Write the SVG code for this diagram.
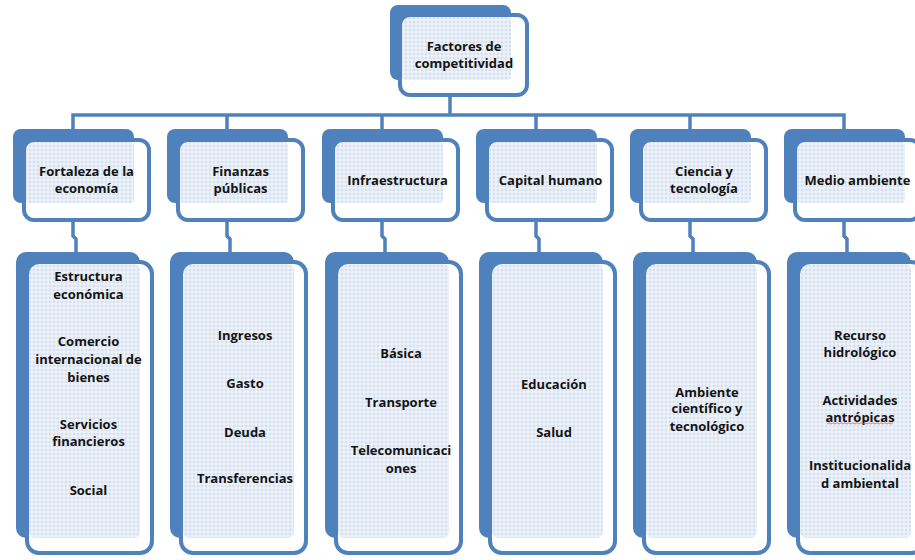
<svg xmlns="http://www.w3.org/2000/svg" width="915" height="560" viewBox="0 0 915 560">
<defs>
<pattern id="dots" width="4" height="4" patternUnits="userSpaceOnUse">
<rect width="4" height="4" fill="#e6edf6"/>
<circle cx="2" cy="2" r="0.9" fill="#cfdbec"/>
<circle cx="0" cy="0" r="0.7" fill="#ffffff"/>
<circle cx="4" cy="4" r="0.7" fill="#ffffff"/>
<circle cx="4" cy="0" r="0.7" fill="#ffffff"/>
<circle cx="0" cy="4" r="0.7" fill="#ffffff"/>
</pattern>
<style>
.back{fill:#4f81bd;}
.face{fill:#ffffff;}
.pat{fill:url(#dots);}
.edge{fill:none;stroke:#4f81bd;stroke-width:4;}
.conn{fill:none;stroke:#4f81bd;stroke-width:3.5;stroke-linejoin:miter;}
text{font-family:"Open Sans",Lato,"Liberation Sans",sans-serif;font-weight:700;font-size:13px;text-anchor:middle;fill:#141414;}
.squig{fill:none;stroke:#e06060;stroke-width:0.8;}
</style>
</defs>
<rect width="915" height="560" fill="#ffffff"/>

<g id="connectors">
<path class="conn" d="M450 95 V115"/>
<path class="conn" d="M73 130 V115 H844 V130"/>
<path class="conn" d="M227 115 V130"/>
<path class="conn" d="M382 115 V130"/>
<path class="conn" d="M536 115 V130"/>
<path class="conn" d="M690 115 V130"/>
<path class="conn" d="M73 220 V236 L76 239 V252"/>
<path class="conn" d="M227 220 V236 L230 239 V252"/>
<path class="conn" d="M382 220 V236 L385 239 V252"/>
<path class="conn" d="M536 220 V236 L539 239 V252"/>
<path class="conn" d="M690 220 V236 L693 239 V252"/>
<path class="conn" d="M844 220 V236 L847 239 V252"/>
</g>

<g id="root">
<rect class="back" x="390" y="5" width="121" height="75" rx="8"/>
<rect class="face" x="400" y="15" width="127" height="80" rx="10"/>
<rect class="pat" x="402" y="17" width="109" height="63" rx="4"/>
<rect class="edge" x="400" y="15" width="127" height="80" rx="10"/>
<text x="464" y="51">Factores de</text>
<text x="464" y="68">competitividad</text>
</g>

<g id="n-fortaleza">
<rect class="back" x="13" y="129" width="121" height="74" rx="8"/>
<rect class="face" x="24" y="140" width="125" height="80" rx="10"/>
<rect class="pat" x="26" y="142" width="108" height="61" rx="4"/>
<rect class="edge" x="24" y="140" width="125" height="80" rx="10"/>
<text x="86.5" y="176">Fortaleza de la</text>
<text x="86.5" y="193">economía</text>
</g>
<g id="n-finanzas">
<rect class="back" x="167" y="129" width="121" height="74" rx="8"/>
<rect class="face" x="178" y="140" width="125" height="80" rx="10"/>
<rect class="pat" x="180" y="142" width="108" height="61" rx="4"/>
<rect class="edge" x="178" y="140" width="125" height="80" rx="10"/>
<text x="240.5" y="176">Finanzas</text>
<text x="240.5" y="193">públicas</text>
</g>
<g id="n-infra">
<rect class="back" x="322" y="129" width="121" height="74" rx="8"/>
<rect class="face" x="333" y="140" width="125" height="80" rx="10"/>
<rect class="pat" x="335" y="142" width="108" height="61" rx="4"/>
<rect class="edge" x="333" y="140" width="125" height="80" rx="10"/>
<text x="397.5" y="184.5">Infraestructura</text>
</g>
<g id="n-capital">
<rect class="back" x="476" y="129" width="121" height="74" rx="8"/>
<rect class="face" x="487" y="140" width="125" height="80" rx="10"/>
<rect class="pat" x="489" y="142" width="108" height="61" rx="4"/>
<rect class="edge" x="487" y="140" width="125" height="80" rx="10"/>
<text x="550.5" y="184.5">Capital humano</text>
</g>
<g id="n-ciencia">
<rect class="back" x="630" y="129" width="121" height="74" rx="8"/>
<rect class="face" x="641" y="140" width="125" height="80" rx="10"/>
<rect class="pat" x="643" y="142" width="108" height="61" rx="4"/>
<rect class="edge" x="641" y="140" width="125" height="80" rx="10"/>
<text x="704" y="176">Ciencia y</text>
<text x="704" y="193">tecnología</text>
</g>
<g id="n-medio">
<rect class="back" x="784" y="129" width="121" height="74" rx="8"/>
<rect class="face" x="795" y="140" width="125" height="80" rx="10"/>
<rect class="pat" x="797" y="142" width="108" height="61" rx="4"/>
<rect class="edge" x="795" y="140" width="125" height="80" rx="10"/>
<text x="857.5" y="184.5">Medio ambiente</text>
</g>

<g id="l-fortaleza">
<rect class="back" x="16" y="252" width="124" height="286" rx="10"/>
<rect class="face" x="27" y="262" width="125" height="291" rx="12"/>
<rect class="pat" x="29" y="264" width="111" height="274" rx="6"/>
<rect class="edge" x="27" y="262" width="125" height="291" rx="12"/>
<text x="88.5" y="281">Estructura</text>
<text x="88.5" y="298.5">económica</text>
<text x="88.5" y="346">Comercio</text>
<text x="88.5" y="364">internacional de</text>
<text x="88.5" y="381.5">bienes</text>
<text x="88.5" y="429">Servicios</text>
<text x="88.5" y="446">financieros</text>
<text x="88.5" y="494.5">Social</text>
</g>
<g id="l-finanzas">
<rect class="back" x="170" y="252" width="124" height="286" rx="10"/>
<rect class="face" x="181" y="262" width="125" height="291" rx="12"/>
<rect class="pat" x="183" y="264" width="111" height="274" rx="6"/>
<rect class="edge" x="181" y="262" width="125" height="291" rx="12"/>
<text x="245" y="339.5">Ingresos</text>
<text x="245" y="387.5">Gasto</text>
<text x="245" y="436.5">Deuda</text>
<text x="245" y="482.5">Transferencias</text>
</g>
<g id="l-infra">
<rect class="back" x="325" y="252" width="124" height="286" rx="10"/>
<rect class="face" x="336" y="262" width="125" height="291" rx="12"/>
<rect class="pat" x="338" y="264" width="111" height="274" rx="6"/>
<rect class="edge" x="336" y="262" width="125" height="291" rx="12"/>
<text x="401" y="357.5">Básica</text>
<text x="401" y="406.5">Transporte</text>
<text x="401" y="454.5">Telecomunicaci</text>
<text x="401" y="472.5">ones</text>
</g>
<g id="l-capital">
<rect class="back" x="479" y="252" width="124" height="286" rx="10"/>
<rect class="face" x="490" y="262" width="125" height="291" rx="12"/>
<rect class="pat" x="492" y="264" width="111" height="274" rx="6"/>
<rect class="edge" x="490" y="262" width="125" height="291" rx="12"/>
<text x="554" y="388.5">Educación</text>
<text x="554" y="436.5">Salud</text>
</g>
<g id="l-ciencia">
<rect class="back" x="633" y="252" width="124" height="286" rx="10"/>
<rect class="face" x="644" y="262" width="125" height="291" rx="12"/>
<rect class="pat" x="646" y="264" width="111" height="274" rx="6"/>
<rect class="edge" x="644" y="262" width="125" height="291" rx="12"/>
<text x="707" y="396.5">Ambiente</text>
<text x="707" y="413">científico y</text>
<text x="707" y="430.5">tecnológico</text>
</g>
<g id="l-medio">
<rect class="back" x="787" y="252" width="124" height="286" rx="10"/>
<rect class="face" x="798" y="262" width="125" height="291" rx="12"/>
<rect class="pat" x="800" y="264" width="111" height="274" rx="6"/>
<rect class="edge" x="798" y="262" width="125" height="291" rx="12"/>
<text x="860" y="339.5">Recurso</text>
<text x="860" y="356.5">hidrológico</text>
<text x="860" y="404.5">Actividades</text>
<text x="860" y="421.5">antrópicas</text>
<path class="squig" d="M827 424 l2 -1.2 l2 1.2 l2 -1.2 l2 1.2 l2 -1.2 l2 1.2 l2 -1.2 l2 1.2 l2 -1.2 l2 1.2 l2 -1.2 l2 1.2 l2 -1.2 l2 1.2 l2 -1.2 l2 1.2 l2 -1.2 l2 1.2 l2 -1.2 l2 1.2 l2 -1.2 l2 1.2 l2 -1.2 l2 1.2 l2 -1.2 l2 1.2 l2 -1.2 l2 1.2 l2 -1.2 l2 1.2 l2 -1.2 l2 1.2 l2 -1.2"/>
<text x="860" y="469.5">Institucionalida</text>
<text x="860" y="487.5">d ambiental</text>
</g>
</svg>
